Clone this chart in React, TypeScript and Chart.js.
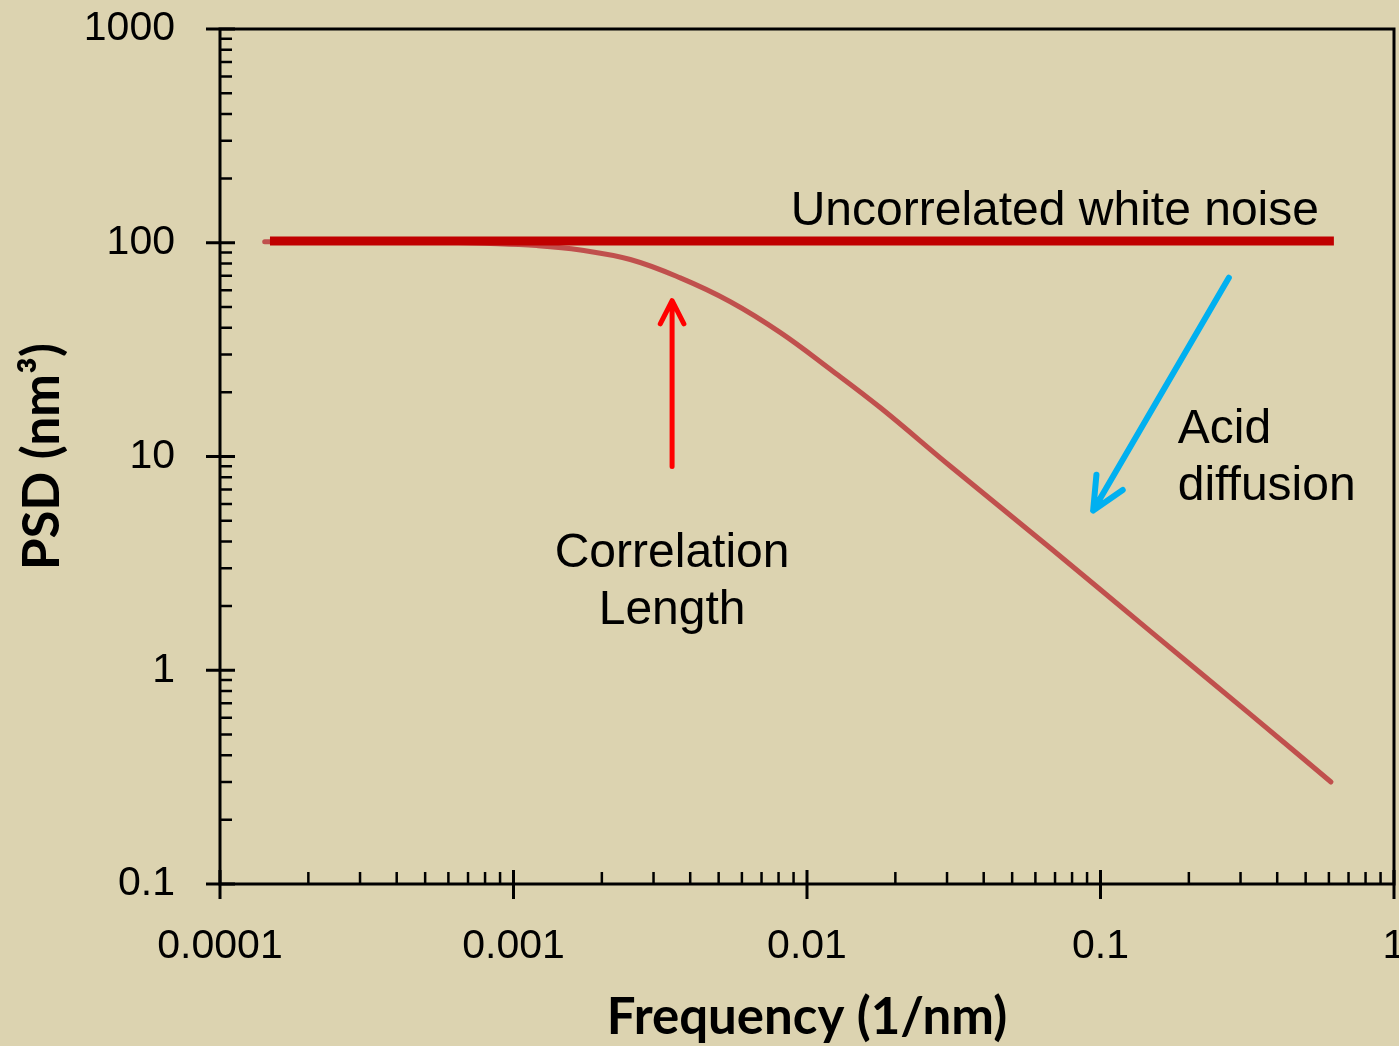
import React, { useEffect, useRef } from "react";
import { Chart, registerables } from "chart.js";

Chart.register(...registerables);

// ---- data ----
const xTickValues = [0.0001, 0.001, 0.01, 0.1, 1];
const xTickLabels = ["0.0001", "0.001", "0.01", "0.1", "1"];
const yTickValues = [0.1, 1, 10, 100, 1000];
const yTickLabels = ["0.1", "1", "10", "100", "1000"];
const minorMultipliers = [2, 3, 4, 5, 6, 7, 8, 9];

const whiteNoiseFreq = [1.48e-4, 0.624];
const whiteNoisePSD = [102, 102];

const diffusionFreq = [
  1.42e-4, 2.5e-4, 4e-4, 6e-4, 8e-4, 1.2e-3, 1.69e-3, 2.5e-3, 3.7e-3, 5.48e-3,
  8.12e-3, 0.012, 0.0178, 0.0308, 0.0676, 0.148, 0.325, 0.61,
];
const diffusionPSD = [
  101, 101, 101, 100.5, 99.5, 97, 92.5, 83.5, 68.5, 53, 38, 25.6, 16.9,
  9.0, 3.72, 1.52, 0.62, 0.3,
];

// annotations (in data coordinates)
const notes = [
  { text: "Uncorrelated white noise", f: 0.555, v: 121, align: "right" },
  { text: "Correlation", f: 3.47e-3, v: 3.03, align: "center" },
  { text: "Length", f: 3.47e-3, v: 1.64, align: "center" },
  { text: "Acid", f: 0.1833, v: 11.6, align: "left" },
  { text: "diffusion", f: 0.1833, v: 6.23, align: "left" },
];
const arrows = [
  { from: [3.47e-3, 8.98], to: [3.47e-3, 53.6], color: "#FF0000", width: 5, head: 26, angle: 27 },
  { from: [0.2737, 68.6], to: [0.0944, 5.59], color: "#00B0F0", width: 6, head: 36, angle: 25 },
];

const BG = "#DCD3B0";
const TICK_FONT = { family: "'Liberation Sans', Arial, sans-serif", size: 41 };
const TITLE_FONT = { family: "Lato, 'Open Sans', sans-serif", size: 51, weight: "bold", lineHeight: 1.1 };

const framePlugin = {
  id: "frame",
  beforeDraw(chart: any) {
    const { ctx, width, height } = chart;
    ctx.save();
    ctx.fillStyle = BG;
    ctx.fillRect(0, 0, width, height);
    ctx.restore();
  },
  afterDraw(chart: any) {
    const { ctx } = chart;
    const { left, right, top, bottom } = chart.chartArea;
    const xs = chart.scales.x;
    const ys = chart.scales.y;
    ctx.save();
    ctx.strokeStyle = "#000";
    ctx.lineCap = "butt";
    // box
    ctx.lineWidth = 3;
    ctx.beginPath();
    ctx.moveTo(left, top);
    ctx.lineTo(right, top);
    ctx.lineTo(right, bottom);
    ctx.lineTo(left, bottom);
    ctx.closePath();
    ctx.stroke();
    // major ticks
    ctx.lineWidth = 3;
    ctx.beginPath();
    xTickValues.forEach((v) => {
      const px = xs.getPixelForValue(v);
      ctx.moveTo(px, bottom - 14);
      ctx.lineTo(px, bottom + 15);
    });
    yTickValues.forEach((v) => {
      const py = ys.getPixelForValue(v);
      ctx.moveTo(left - 14, py);
      ctx.lineTo(left + 15, py);
    });
    ctx.stroke();
    // minor ticks
    ctx.lineWidth = 2.5;
    ctx.beginPath();
    xTickValues.slice(0, -1).forEach((d) => {
      minorMultipliers.forEach((m) => {
        const px = xs.getPixelForValue(d * m);
        ctx.moveTo(px, bottom);
        ctx.lineTo(px, bottom - 12);
      });
    });
    yTickValues.slice(0, -1).forEach((d) => {
      minorMultipliers.forEach((m) => {
        const py = ys.getPixelForValue(d * m);
        ctx.moveTo(left, py);
        ctx.lineTo(left + 12, py);
      });
    });
    ctx.stroke();

    // arrows
    arrows.forEach((a) => {
      const x1 = xs.getPixelForValue(a.from[0]);
      const y1 = ys.getPixelForValue(a.from[1]);
      const x2 = xs.getPixelForValue(a.to[0]);
      const y2 = ys.getPixelForValue(a.to[1]);
      const ang = Math.atan2(y1 - y2, x1 - x2);
      const t = (a.angle * Math.PI) / 180;
      ctx.strokeStyle = a.color;
      ctx.lineWidth = a.width;
      ctx.lineCap = "round";
      ctx.lineJoin = "round";
      ctx.beginPath();
      ctx.moveTo(x1, y1);
      ctx.lineTo(x2, y2);
      ctx.moveTo(x2 + a.head * Math.cos(ang + t), y2 + a.head * Math.sin(ang + t));
      ctx.lineTo(x2, y2);
      ctx.lineTo(x2 + a.head * Math.cos(ang - t), y2 + a.head * Math.sin(ang - t));
      ctx.stroke();
    });

    // notes
    ctx.fillStyle = "#000";
    ctx.font = "48px 'Liberation Sans', Arial, sans-serif";
    ctx.textBaseline = "alphabetic";
    notes.forEach((n) => {
      ctx.textAlign = n.align as CanvasTextAlign;
      ctx.fillText(n.text, xs.getPixelForValue(n.f), ys.getPixelForValue(n.v));
    });
    ctx.restore();
  },
};

export default function App() {
  const ref = useRef<HTMLCanvasElement | null>(null);
  useEffect(() => {
    if (!ref.current) return;
    const chart = new Chart(ref.current, {
      type: "line",
      data: {
        datasets: [
          {
            label: "Uncorrelated white noise",
            data: whiteNoiseFreq.map((f, i) => ({ x: f, y: whiteNoisePSD[i] })),
            borderColor: "#C00000",
            borderWidth: 9,
            borderCapStyle: "butt",
            pointRadius: 0,
            fill: false,
          },
          {
            label: "Acid diffusion",
            data: diffusionFreq.map((f, i) => ({ x: f, y: diffusionPSD[i] })),
            borderColor: "#C0504D",
            borderWidth: 5,
            borderCapStyle: "round",
            tension: 0.4,
            pointRadius: 0,
            fill: false,
          },
        ],
      },
      options: {
        animation: false,
        responsive: false,
        devicePixelRatio: 1,
        layout: { padding: { left: 0, top: 29, right: 5, bottom: 0 } },
        plugins: { legend: { display: false }, tooltip: { enabled: false } },
        scales: {
          x: {
            type: "logarithmic",
            position: "bottom",
            min: 0.0001,
            max: 1,
            grid: { display: false, drawTicks: false },
            border: { display: false },
            afterBuildTicks: (s: any) => {
              s.ticks = xTickValues.map((v) => ({ value: v, major: true }));
            },
            afterFit: (s: any) => {
              s.height = 162;
              s.paddingLeft = 0;
              s.paddingRight = 0;
            },
            ticks: {
              autoSkip: false,
              maxRotation: 0,
              minRotation: 0,
              padding: 38,
              color: "#000",
              font: TICK_FONT,
              callback: (v: any) => {
                const i = xTickValues.findIndex((t) => Math.abs(t - v) / t < 1e-6);
                return i >= 0 ? xTickLabels[i] : "";
              },
            },
            title: {
              display: true,
              text: "Frequency (1/nm)",
              color: "#000",
              font: TITLE_FONT,
              padding: { top: 0, bottom: 0 },
            },
          },
          y: {
            type: "logarithmic",
            position: "left",
            min: 0.1,
            max: 1000,
            grid: { display: false, drawTicks: false },
            border: { display: false },
            afterBuildTicks: (s: any) => {
              s.ticks = yTickValues.map((v) => ({ value: v, major: true }));
            },
            afterFit: (s: any) => {
              s.width = 220;
              s.paddingTop = 0;
              s.paddingBottom = 0;
            },
            ticks: {
              autoSkip: false,
              padding: 45,
              color: "#000",
              font: TICK_FONT,
              callback: (v: any) => {
                const i = yTickValues.findIndex((t) => Math.abs(t - v) / t < 1e-6);
                return i >= 0 ? yTickLabels[i] : "";
              },
            },
            title: {
              display: true,
              text: "PSD (nm³)",
              color: "#000",
              font: TITLE_FONT,
              padding: { top: 14, bottom: 0 },
            },
          },
        },
      },
      plugins: [framePlugin],
    } as any);
    return () => chart.destroy();
  }, []);
  return (
    <div style={{ position: "fixed", left: 0, top: 0, width: 1399, height: 1046, background: BG }}>
      <canvas ref={ref} width={1399} height={1046} style={{ display: "block", width: 1399, height: 1046 }} />
    </div>
  );
}
